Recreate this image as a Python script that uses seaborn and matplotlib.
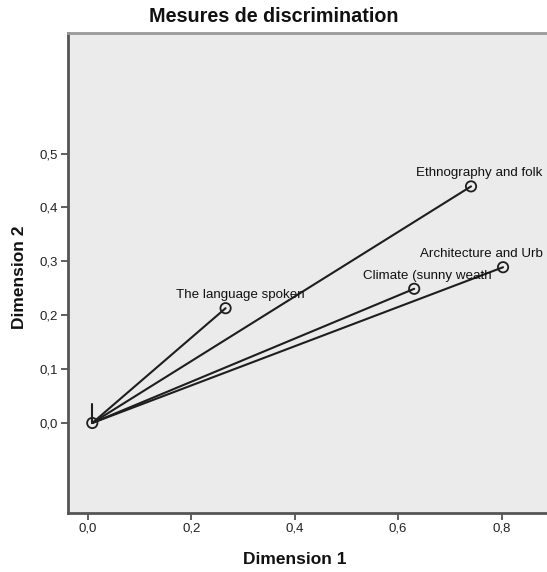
import matplotlib
matplotlib.use("Agg")
import matplotlib.pyplot as plt
import seaborn as sns
import pandas as pd

# ---- data ----
variables = ["The language spoken", "Ethnography and folk", "Climate (sunny weath", "Architecture and Urb"]
dim1 = [0.266, 0.741, 0.631, 0.803]
dim2 = [0.213, 0.439, 0.249, 0.289]
origin = (0.008, 0.0)
stub_top = 0.036  # short vertical segment at the origin
xticks = [0.0, 0.2, 0.4, 0.6, 0.8]
yticks = [0.0, 0.1, 0.2, 0.3, 0.4, 0.5]
xtick_labels = ["0,0", "0,2", "0,4", "0,6", "0,8"]
ytick_labels = ["0,0", "0,1", "0,2", "0,3", "0,4", "0,5"]
label_offsets = [(-50, 10), (-55, 10), (-51, 10), (-83, 10)]  # pixels

sns.set_style("white")
plt.rcParams["font.family"] = ["Liberation Sans", "DejaVu Sans"]

rows = []
for v, x, y in zip(variables, dim1, dim2):
    rows.append({"var": v, "x": origin[0], "y": origin[1], "o": 0})
    rows.append({"var": v, "x": x, "y": y, "o": 1})
rows.append({"var": "stub", "x": origin[0], "y": origin[1], "o": 0})
rows.append({"var": "stub", "x": origin[0], "y": stub_top, "o": 1})
segs = pd.DataFrame(rows)
pts = pd.DataFrame({"x": [origin[0]] + dim1, "y": [origin[1]] + dim2})

fig = plt.figure(figsize=(5.47, 5.72), dpi=100)
L, B, T = 68 / 547, 59 / 572, 1 - 33 / 572
x0 = -0.039
x1 = 0.92
right_px = 68 + (x1 - x0) * 516.7
ax = fig.add_axes([L, B, (right_px - 68) / 547, T - B])
ax.set_facecolor("#ebebeb")

sns.lineplot(data=segs, x="x", y="y", units="var", estimator=None, sort=False,
             color="#1e1e1e", linewidth=1.5, ax=ax, legend=False)
sns.scatterplot(data=pts, x="x", y="y", s=55, facecolor="none",
                edgecolor="#1e1e1e", linewidth=1.3, ax=ax, legend=False, zorder=5)

for v, x, y, (dx, dy) in zip(variables, dim1, dim2, label_offsets):
    ax.annotate(v, (x, y), xytext=(dx, dy), textcoords="offset pixels",
                ha="left", va="baseline", fontsize=9.6, color="#111111",
                annotation_clip=False)

ax.set_xlim(x0, x1)
ax.set_ylim(-0.167, 0.7236)
ax.set_xticks(xticks)
ax.set_xticklabels(xtick_labels)
ax.set_yticks(yticks)
ax.set_yticklabels(ytick_labels)
ax.tick_params(axis="both", direction="out", length=5, width=1.2, color="#444444",
               labelsize=9.5, labelcolor="#222222", pad=2, left=True, bottom=True)
ax.set_xlabel("")
ax.set_ylabel("")
for side in ["left", "bottom"]:
    ax.spines[side].set_color("#555555")
    ax.spines[side].set_linewidth(2)
ax.spines["top"].set_color("#999999")
ax.spines["top"].set_linewidth(2)
ax.spines["right"].set_visible(False)

fig.text(274 / 547, 1 - 17 / 572, "Mesures de discrimination", ha="center", va="center",
         fontsize=14.2, fontweight="bold", color="#111111")
fig.text(295 / 547, 1 - 560 / 572, "Dimension 1", ha="center", va="center",
         fontsize=12.5, fontweight="bold", color="#111111")
fig.text(20 / 547, 1 - 277 / 572, "Dimension 2", ha="center", va="center", rotation=90,
         fontsize=12.5, fontweight="bold", color="#111111")

fig.savefig("out.png", dpi=100)
